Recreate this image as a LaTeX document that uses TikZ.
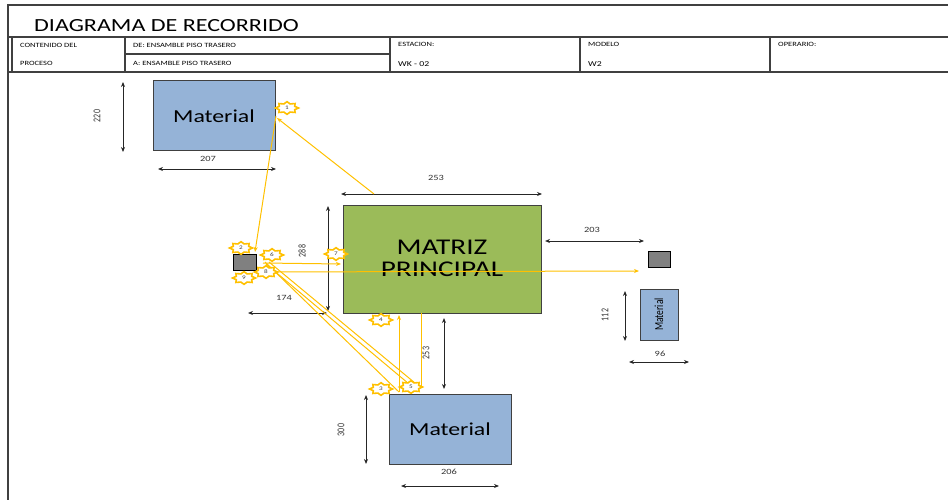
\documentclass[tikz,border=0pt]{standalone}
\usepackage{fontspec}
\setmainfont{Carlito}[FakeStretch=1.3]
\newfontfamily\plainf{Carlito}
\usetikzlibrary{arrows.meta}
\definecolor{matblue}{HTML}{95B3D7}
\definecolor{matgreen}{HTML}{9BBB59}
\definecolor{ylw}{HTML}{FFC000}
\definecolor{smallgray}{HTML}{808080}
\definecolor{edge}{HTML}{404040}
\tikzset{
  frame/.style={draw=edge, line width=1.1pt},
  hdr/.style={anchor=west, inner sep=0pt, font=\fontsize{6.5}{7}\selectfont},
  matbox/.style={draw=edge, line width=1pt, fill=matblue},
  graybox/.style={draw=black, line width=0.9pt, fill=smallgray},
  dimline/.style={draw=black!85, line width=0.9pt, {Stealth[length=5pt,width=4pt]}-{Stealth[length=5pt,width=4pt]}},
  dimlab/.style={inner sep=0pt, font=\fontsize{8}{9}\selectfont, text=black!80},
  rdimlab/.style={inner sep=0pt, rotate=90, text=black!80},
  flow/.style={draw=ylw, line width=1pt, -{Stealth[length=5pt,width=4pt]}},
  flowplain/.style={draw=ylw, line width=1pt},
  numlab/.style={inner sep=0pt, font=\fontsize{5.5}{6}\selectfont, text=black!75},
  mstar/.pic={
    \draw[draw=ylw, fill=white, line width=1.6pt, line join=miter]
      (11.5,0)
      \foreach \k [evaluate=\k as \rx using {8.3+3.2*(1-mod(\k,2))},
                   evaluate=\k as \ry using {4.4+1.9*(1-mod(\k,2))}] in {1,...,15}
        { -- ({\rx*cos(\k*22.5)},{\ry*sin(\k*22.5)}) } -- cycle;
  }
}
\begin{document}
\begin{tikzpicture}[x=1pt,y=-1pt]
\useasboundingbox (0,0) rectangle (948,500);

% ---- header frame ----
\draw[frame] (8,500) -- (8,5) -- (948,5);
\draw[frame] (8,37) -- (948,37);
\draw[frame] (8,72) -- (948,72);
\draw[frame] (12,37) -- (12,72);
\draw[frame] (125,54) -- (390,54);
\foreach \xx in {125,390,580,770} { \draw[frame] (\xx,37) -- (\xx,72); }

\node[anchor=west, inner sep=0pt, font=\fontsize{18.5}{20}\selectfont] (title) at (34,26) {DIAGRAMA DE RECORRIDO};
\node[hdr] (h1) at (20,45) {CONTENIDO DEL};
\node[hdr] (h2) at (20,63) {PROCESO};
\node[hdr] (h3) at (133,45) {DE: ENSAMBLE PISO TRASERO};
\node[hdr] (h4) at (133,63) {A: ENSAMBLE PISO TRASERO};
\node[hdr] (h5) at (398,44) {ESTACION:};
\node[hdr, font=\fontsize{7.5}{8}\selectfont] (h6) at (398,64) {WK - 02};
\node[hdr] (h7) at (588,44) {MODELO};
\node[hdr, font=\fontsize{7.5}{8}\selectfont] (h8) at (588,64) {W2};
\node[hdr] (h9) at (778,44) {OPERARIO:};

% ---- boxes ----
\path[matbox] (153,81) rectangle (275,151);
\node[font=\fontsize{18.3}{20}\selectfont] (matA) at (214,116) {Material};
\path[draw=edge, line width=1pt, fill=matgreen] (343,205) rectangle (541,313);
\node[align=center, font=\fontsize{22.5}{22}\selectfont] (matriz) at (442,258) {MATRIZ\\PRINCIPAL};
\path[matbox] (389,394) rectangle (511,464);
\node[font=\fontsize{18.3}{20}\selectfont] (matB) at (450,429) {Material};
\path[matbox] (640,289) rectangle (678,340);
\node[rotate=90, inner sep=0pt] (matC) at (659,314.5) {\scalebox{1}[1.3]{\plainf\fontsize{9.5}{10}\selectfont Material}};
\path[graybox] (233,254) rectangle (256,270);
\node[inner sep=0pt] (gbL) at (244.5,262) {};
\path[graybox] (648,251) rectangle (670,267);
\node[inner sep=0pt] (gbR) at (659,259) {};

% ---- dimensions ----
\coordinate (d1a) at (123,82);  \coordinate (d1b) at (123,152);
\draw[dimline] (d1a) -- (d1b);
\node[rdimlab] (l220) at (97,116) {\scalebox{1}[1.3]{\plainf\fontsize{8}{9}\selectfont 220}};
\coordinate (d2a) at (158,169); \coordinate (d2b) at (276,169);
\draw[dimline] (d2a) -- (d2b);
\node[dimlab] (l207) at (208,159) {207};
\coordinate (d3a) at (341,194); \coordinate (d3b) at (542,194);
\draw[dimline] (d3a) -- (d3b);
\node[dimlab] (l253a) at (436,178) {253};
\coordinate (d4a) at (328,206); \coordinate (d4b) at (328,311);
\draw[dimline] (d4a) -- (d4b);
\node[rdimlab] (l288) at (302,251) {\scalebox{1}[1.3]{\plainf\fontsize{8}{9}\selectfont 288}};
\coordinate (d5a) at (545,241); \coordinate (d5b) at (644,241);
\draw[dimline] (d5a) -- (d5b);
\node[dimlab] (l203) at (592,230) {203};
\coordinate (d6a) at (248,313); \coordinate (d6b) at (327,313);
\draw[dimline] (d6a) -- (d6b);
\node[dimlab] (l174) at (284,298) {174};
\coordinate (d7a) at (444,318); \coordinate (d7b) at (444,389);
\draw[dimline] (d7a) -- (d7b);
\node[rdimlab] (l253b) at (426,353) {\scalebox{1}[1.3]{\plainf\fontsize{8}{9}\selectfont 253}};
\coordinate (d8a) at (366,395); \coordinate (d8b) at (366,464);
\draw[dimline] (d8a) -- (d8b);
\node[rdimlab] (l300) at (341,430) {\scalebox{1}[1.3]{\plainf\fontsize{8}{9}\selectfont 300}};
\coordinate (d9a) at (401,486); \coordinate (d9b) at (499,486);
\draw[dimline] (d9a) -- (d9b);
\node[dimlab] (l206) at (449,472) {206};
\coordinate (d10a) at (625,291); \coordinate (d10b) at (625,341);
\draw[dimline] (d10a) -- (d10b);
\node[rdimlab] (l112) at (605,315) {\scalebox{1}[1.3]{\plainf\fontsize{8}{9}\selectfont 112}};
\coordinate (d11a) at (629,362); \coordinate (d11b) at (689,362);
\draw[dimline] (d11a) -- (d11b);
\node[dimlab] (l96) at (660,354) {96};

% ---- flow lines ----
\coordinate (f1s) at (374,194); \coordinate (f1e) at (277,118);
\draw[flow] (f1s) -- (f1e);
\coordinate (f2s) at (276,116); \coordinate (f2e) at (255,252);
\draw[flow] (f2s) -- (f2e);
\coordinate (f3s) at (263,263); \coordinate (f3e) at (341,264);
\draw[flow] (f3s) -- (f3e);
\coordinate (f4s) at (262,272); \coordinate (f4e) at (639,271);
\draw[flow] (f4s) -- (f4e);
\coordinate (f5s) at (265,262); \coordinate (f5e) at (399,392);
\draw[flowplain] (f5s) -- (f5e);
\coordinate (f6s) at (266,264); \coordinate (f6e) at (415,389);
\draw[flowplain] (f6s) -- (f6e);
\coordinate (f7s) at (269,262); \coordinate (f7e) at (421,388);
\draw[flowplain] (f7s) -- (f7e);
\coordinate (f8s) at (399,392); \coordinate (f8e) at (399,315);
\draw[flow] (f8s) -- (f8e);
\coordinate (f9s) at (421,313); \coordinate (f9e) at (421,388);
\draw[flowplain] (f9s) -- (f9e);

% ---- numbered markers ----
\foreach \n/\px/\py in {1/287/108, 2/241/248, 6/272/255, 7/336/254, 8/266/272, 9/244/278, 4/381/320, 3/381/389, 5/411/387} {
  \pic at (\px,\py) {mstar};
  \node[numlab] (m\n) at (\px,\py) {\n};
}
\end{tikzpicture}
\end{document}
